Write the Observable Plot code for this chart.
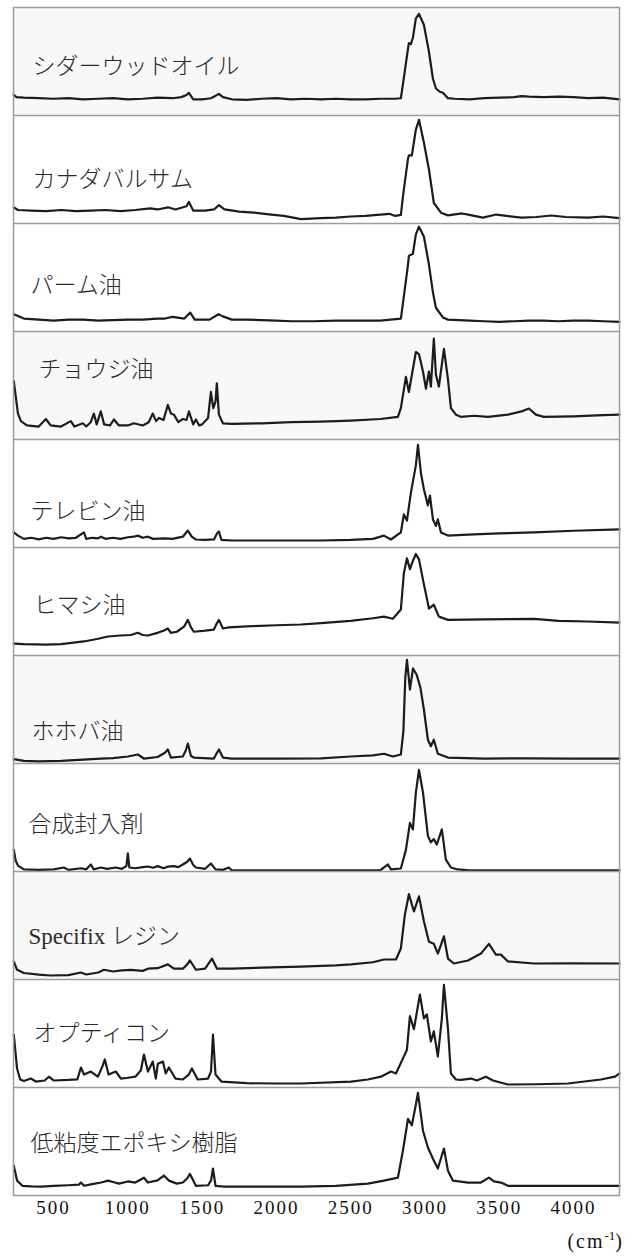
<!DOCTYPE html>
<html><head><meta charset="utf-8">
<script src="https://cdn.jsdelivr.net/npm/d3@7"></script>
<script src="https://cdn.jsdelivr.net/npm/@observablehq/plot@0.6"></script>
<style>
body{margin:0;background:#fff;}
#chart{position:relative;width:633px;height:1259px;}
#chart svg{display:block;}
.unit{position:absolute;top:1231px;right:9px;font:20px "Liberation Serif",serif;letter-spacing:2px;line-height:20px;color:#111;}
.unit sup{font-size:13px;vertical-align:8px;line-height:0;letter-spacing:0;}
g[aria-label="x-axis tick label"] text{letter-spacing:2px;}
</style></head><body><div id="chart"><div class="unit">(cm<sup>-1</sup>)</div></div>
<script>
// ---- data ----
const names = ["シダーウッドオイル","カナダバルサム","パーム油","チョウジ油","テレビン油","ヒマシ油","ホホバ油","合成封入剤","Specifix レジン","オプティコン","低粘度エポキシ樹脂"];
const xTicks = [500,1000,1500,2000,2500,3000,3500,4000];
const xDomain = [230, 4310];

const cedar = [[232,19],[250,17],[300,16.5],[400,16],[500,15.5],[600,16],[700,15],[800,15.5],[900,16],[1000,15],[1100,15.5],[1200,16.5],[1300,16],[1360,17],[1395,19],[1411,21],[1440,15],[1500,15],[1560,16],[1613,20],[1640,17],[1700,15],[1800,14.5],[1900,15.5],[2000,16],[2100,15],[2200,15.5],[2300,15],[2400,15.5],[2500,15],[2600,15],[2700,15.5],[2800,15.5],[2838,16],[2852,29],[2886,62],[2892,67],[2905,66],[2919,72],[2939,90],[2960,94],[2993,84],[3027,59],[3054,34],[3074,25],[3100,22],[3121,21],[3155,16],[3200,15.5],[3300,15],[3400,16],[3500,16.5],[3600,17],[3650,18],[3700,17.5],[3800,17],[3900,17.5],[4000,17],[4100,16],[4200,16.5],[4310,15]];
const canada = [[232,15],[260,12.5],[350,12],[450,11.5],[550,12.5],[650,11.5],[750,12],[850,12.5],[950,11.5],[1050,12.5],[1150,14],[1200,13],[1270,15],[1320,13],[1395,16],[1411,20],[1440,12],[1520,12],[1580,13],[1613,17],[1650,13],[1750,11],[1850,10],[1950,8.5],[2050,7],[2165,4],[2300,5],[2400,5.5],[2500,6.5],[2600,7],[2700,8.3],[2760,9],[2800,7],[2838,8],[2852,25],[2886,60],[2892,63],[2912,63],[2939,87],[2960,96],[2993,75],[3027,50],[3060,19],[3108,10],[3155,7.5],[3250,9.3],[3300,8],[3390,5.5],[3480,8.3],[3550,7],[3650,5.5],[3750,6],[3850,7.4],[3950,6],[4100,5.5],[4200,6.5],[4310,5]];
const palm = [[232,16],[300,12],[400,11],[500,10],[600,11],[700,11],[800,10],[900,10.5],[1000,11],[1100,11],[1200,12],[1250,12],[1300,13.5],[1380,12],[1420,17.5],[1450,11],[1550,11],[1610,16],[1640,14],[1700,11],[1800,11],[1900,10.5],[2000,10],[2100,9.5],[2250,9.5],[2400,10],[2550,10],[2700,10],[2838,12],[2852,26],[2886,62],[2892,70],[2919,72],[2939,90],[2960,97],[2993,88],[3027,62],[3054,36],[3074,22],[3121,13],[3155,11],[3300,10],[3400,9.5],[3500,9],[3600,9.5],[3700,10],[3800,10],[3900,9.5],[4000,10],[4100,10],[4200,9.5],[4310,9]];
const clove = [[232,54],[245,40],[260,24],[280,17],[320,13],[400,12],[448,19],[480,13],[550,12],[616,17],[640,12],[697,15],[720,12],[750,16],[771,24],[790,14],[818,26],[840,14],[880,13],[906,18.5],[940,13],[1000,13],[1040,15],[1100,13],[1140,16],[1168,24],[1190,17],[1209,20],[1240,18],[1269,32],[1290,24],[1310,23],[1340,16],[1370,19],[1395,18],[1411,26],[1440,14],[1458,18.5],[1480,13],[1500,14],[1540,20],[1559,44],[1575,29],[1590,35],[1599,52],[1613,23],[1640,15],[1700,14.5],[1900,15],[2100,16],[2300,16.5],[2500,17.5],[2700,19],[2818,21],[2838,29],[2872,58],[2892,44],[2939,81],[2960,79],[2987,63],[3007,47],[3027,63],[3040,49],[3060,93.5],[3074,60],[3094,49],[3128,84],[3155,56],[3175,29],[3209,23],[3242,21],[3330,22],[3424,21],[3559,23],[3650,26],[3700,28.7],[3747,23],[3801,21],[4000,21.5],[4200,22.5],[4310,23]];
const turpentine = [[232,14],[260,11],[300,8],[350,9],[400,7.5],[450,9],[500,8],[550,9.5],[600,8.5],[650,9],[704,14],[720,8],[760,9],[800,8.5],[818,10],[850,8],[900,9],[950,8],[1000,9.5],[1040,10],[1067,11],[1100,9],[1135,10],[1170,8],[1250,8.5],[1300,8],[1370,10],[1404,15.7],[1430,10],[1458,7.4],[1520,7],[1580,7.5],[1600,13],[1613,14.8],[1630,7],[1700,6.5],[1900,6.5],[2100,6.5],[2300,6.5],[2500,7],[2650,8],[2724,11],[2771,7.4],[2838,14],[2858,30.6],[2879,25],[2906,51],[2939,76],[2953,95],[2973,69],[2993,54],[3020,39],[3034,48],[3054,26],[3074,20],[3087,26],[3108,14],[3155,11],[3290,12],[3500,13],[3734,14],[4000,15.5],[4310,16.7]];
const castor = [[232,11],[300,10.5],[450,10],[550,10.5],[704,13],[800,15.5],[866,17.6],[950,18.5],[1020,19],[1067,21],[1100,19],[1135,18.5],[1200,21],[1240,23],[1269,25],[1290,21],[1330,22],[1380,27],[1404,33],[1425,26],[1444,22],[1520,23],[1579,24],[1600,30],[1613,33],[1640,25],[1680,26],[1800,27],[2000,28],[2165,28.7],[2300,30],[2500,32],[2650,34.5],[2724,36],[2784,34],[2838,42.6],[2858,76],[2879,90],[2899,80],[2920,88],[2939,94],[2960,89],[2987,70],[3027,43.5],[3060,47],[3094,36],[3155,33],[3400,33.5],[3734,34],[3900,32],[4100,31.5],[4310,30.5]];
const jojoba = [[232,4],[300,2.5],[400,2],[550,2.5],[700,3.5],[818,4.6],[900,5],[1000,6.5],[1067,8.3],[1108,4.6],[1200,6],[1250,10],[1269,13],[1290,5.5],[1370,6.5],[1390,12],[1404,18.5],[1425,7],[1444,5.5],[1579,4.6],[1600,10],[1613,13],[1640,5.5],[1700,4.5],[2000,4.6],[2300,4.8],[2500,6.5],[2650,7.5],[2724,9],[2784,6.5],[2838,8.3],[2855,30],[2868,80],[2879,96],[2899,68.5],[2920,88],[2945,82],[2970,70],[2993,50],[3020,22],[3040,16],[3060,22],[3087,9],[3155,5.5],[3400,4.6],[3700,4.8],[4000,4.6],[4310,4.6]];
const synthetic = [[232,20],[245,10],[260,5.5],[300,2],[400,1.5],[500,2],[569,3.7],[600,1.5],[684,3],[720,2],[751,6.5],[770,2],[818,3.7],[860,2.5],[919,3.7],[960,2.5],[990,5],[1000,16.7],[1010,3.7],[1050,3],[1100,4],[1135,4.6],[1170,3.5],[1200,5],[1240,3],[1270,4.5],[1310,5],[1340,4],[1370,6.5],[1400,9],[1418,12],[1440,6],[1458,3.7],[1520,2.5],[1559,7.4],[1590,1.9],[1640,1.5],[1680,3.7],[1700,1],[2000,1],[2500,1],[2700,1.2],[2751,6.5],[2771,2],[2838,2.8],[2872,20],[2899,45],[2919,39],[2939,73],[2960,94],[2987,73],[3020,33],[3040,27],[3060,30],[3080,25],[3114,39],[3141,11],[3175,3.7],[3220,1.9],[3300,1],[4310,1]];
const specifix = [[232,16.5],[254,9],[300,6],[400,4.5],[480,3.7],[600,4],[684,6.5],[720,4.6],[800,6.5],[839,9],[900,7.4],[960,8.5],[1020,9],[1100,8],[1135,10],[1200,10.5],[1269,14],[1310,10],[1370,10],[1400,14],[1418,17.6],[1458,9],[1520,10],[1566,19.4],[1600,10],[1700,10],[1900,11],[2165,12],[2400,13],[2502,14],[2650,16],[2724,18.5],[2805,18.5],[2838,28.7],[2865,60],[2892,79],[2926,63],[2960,77],[2993,54],[3027,35],[3060,33],[3087,24],[3128,40],[3155,19.4],[3195,14.8],[3290,17.6],[3377,24],[3431,33],[3478,23],[3512,23],[3559,16.7],[3734,14.8],[4000,15],[4310,14.8]];
const opticon = [[232,49],[254,17.6],[275,7.4],[300,6],[347,8.3],[380,5.5],[440,6.5],[468,10],[500,6.5],[600,7],[660,7.5],[684,18.5],[705,12],[751,14.8],[798,10],[830,20],[845,26],[870,12],[919,14.8],[953,8.3],[1000,9],[1050,10],[1088,16],[1108,30.5],[1135,14.8],[1168,24],[1188,8.3],[1202,22],[1236,24],[1255,13],[1276,18.5],[1320,8.3],[1370,7.4],[1410,12],[1431,17.6],[1470,7.4],[1540,8.3],[1560,15],[1573,49],[1590,12],[1630,5.5],[1800,4],[2000,3.7],[2165,3.7],[2502,5.5],[2616,7.4],[2704,10],[2771,14.8],[2805,13],[2852,27],[2879,35],[2899,66],[2926,54],[2966,86],[2993,64],[3013,67.6],[3040,42.6],[3060,52],[3087,28.7],[3114,64],[3128,95],[3155,54.6],[3175,13],[3209,7.4],[3242,7],[3310,8.3],[3350,6.5],[3410,10],[3458,6.5],[3559,2.8],[3750,3],[3963,3.7],[4185,7.4],[4280,10],[4310,13]];
const epoxy = [[232,27.5],[254,13.8],[290,9],[350,8.5],[420,8.3],[500,9],[600,9.5],[670,10],[684,12],[705,9],[760,10.5],[820,12],[866,13.8],[900,12.5],[940,11],[1000,13],[1050,12],[1108,16.5],[1135,12],[1200,14],[1242,18.5],[1276,13.8],[1330,11],[1370,12],[1400,16],[1418,20],[1458,9],[1540,9.5],[1560,14],[1573,25],[1590,9],[1650,8.3],[1900,8.3],[2165,8.3],[2400,9],[2616,11],[2724,13.8],[2818,16.5],[2852,41.7],[2886,71],[2912,65],[2940,85],[2953,95],[2987,60],[3020,44.5],[3054,34],[3087,25],[3128,43.5],[3155,23],[3188,13.8],[3290,12],[3377,12],[3431,16.5],[3465,13],[3512,12],[3559,9],[3800,9],[4310,9]];

const spectra = [cedar, canada, palm, clove, turpentine, castor, jojoba, synthetic, specifix, opticon, epoxy];

// ---- layout ----
const panelH = 108;
const labelTop = [59,64,62,38,72,58,76,61,65,54,56];
const labelLeft = [19,19,17,25,17,20,18,15,15,20,17];
const shaded = [true,false,false,true,false,false,true,false,true,false,false];
const serif = '"Liberation Serif","Noto Sans CJK JP",serif';

const chart = document.getElementById("chart");
names.forEach((name, i) => {
  const first = i === 0, last = i === names.length - 1;
  const mt = first ? 7 : 0, mb = last ? 30 : 0;
  const rows = spectra[i].map(([wn, v]) => ({wn, v}));
  const marks = [
    Plot.frame({fill: shaded[i] ? "#f8f8f8" : "#ffffff"}),
    Plot.line(rows, {x: "wn", y: "v", stroke: "#1c1c1c", strokeWidth: 2.2, strokeLinejoin: "round"}),
    Plot.text([name], {text: d => d, frameAnchor: "left", y: [100 * (1 - labelTop[i] / panelH)],
      dx: labelLeft[i], textAnchor: "start", lineAnchor: "middle", fontSize: 23, fontWeight: 300, fontFamily: serif, fill: "#2a2a2a"}),
    Plot.frame({stroke: "#9c9c9c", strokeWidth: 1.5})
  ];
  if (last) marks.push(Plot.axisX(xTicks, {tickSize: 0, tickPadding: 5, tickFormat: d => String(d), fontSize: 19, fontFamily: '"Liberation Serif",serif', fill: "#111", label: null}));
  const svg = Plot.plot({
    width: 633, height: panelH + mt + mb,
    marginLeft: 13, marginRight: 14, marginTop: mt, marginBottom: mb,
    x: {domain: xDomain, axis: null},
    y: {domain: [0, 100], axis: null},
    style: {background: "transparent"},
    marks
  });
  chart.appendChild(svg);
});
</script></body></html>
